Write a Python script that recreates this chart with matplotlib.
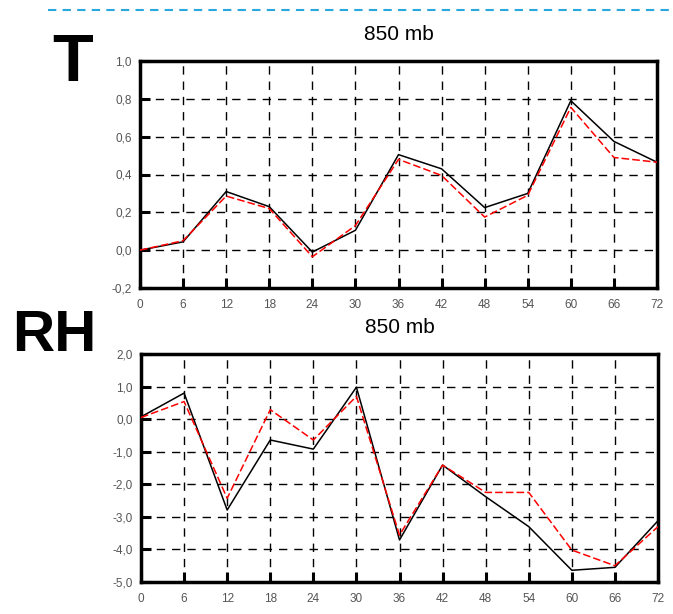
import numpy as np
import matplotlib
matplotlib.use("Agg")
import matplotlib.pyplot as plt
from matplotlib.lines import Line2D

plt.rcParams['font.family'] = ['Liberation Sans', 'DejaVu Sans']

hours = [0, 6, 12, 18, 24, 30, 36, 42, 48, 54, 60, 66, 72]

t_black = [0.0, 0.044, 0.31, 0.23, -0.01, 0.105, 0.505, 0.43, 0.225, 0.30, 0.79, 0.575, 0.465]
t_red = [0.0, 0.05, 0.286, 0.22, -0.035, 0.13, 0.48, 0.395, 0.175, 0.29, 0.755, 0.49, 0.465]

rh_black = [0.07, 0.8, -2.79, -0.64, -0.92, 0.98, -3.71, -1.41, -2.38, -3.3, -4.64, -4.55, -3.12]
rh_red = [0.05, 0.54, -2.43, 0.29, -0.64, 0.7, -3.56, -1.41, -2.25, -2.25, -4.02, -4.5, -3.3]

t_ticks = [-0.2, 0.0, 0.2, 0.4, 0.6, 0.8, 1.0]
rh_ticks = [-5.0, -4.0, -3.0, -2.0, -1.0, 0.0, 1.0, 2.0]

W, H = 673, 614
fig = plt.figure(figsize=(W / 100, H / 100), dpi=100)


def px_axes(left, top, right, bottom):
    return fig.add_axes([left / W, 1 - bottom / H, (right - left) / W, (bottom - top) / H])


def style(ax, black_series, red_series, yticks, title):
    ax.plot(hours, black_series, color='black', lw=1.1, zorder=3)
    ax.plot(hours, red_series, color='red', lw=1.1, dashes=(5, 2), zorder=4)
    ax.set_xlim(0, 72)
    ax.set_ylim(yticks[0], yticks[-1])
    ax.set_xticks(hours)
    ax.set_yticks(yticks)
    ax.set_yticklabels([f"{v:.1f}".replace('.', ',') for v in yticks])
    ax.grid(True, color='black', lw=1.0, linestyle=(0, (6, 5)))
    for s in ax.spines.values():
        s.set_linewidth(2.5)
    ax.tick_params(direction='in', length=7, width=2.2, labelsize=8.5,
                   labelcolor='#555555')
    ax.tick_params(axis='x', pad=8)
    ax.tick_params(axis='y', pad=6)
    ax.set_title(title, fontsize=15, pad=15)


ax1 = px_axes(140, 61, 657, 288)
style(ax1, t_black, t_red, t_ticks, "850 mb")

ax2 = px_axes(141, 354, 658, 582)
style(ax2, rh_black, rh_red, rh_ticks, "850 mb")

fig.text(73 / W, 1 - 64 / H, "T", fontsize=48, fontweight='bold', ha='center', va='center')
fig.text(54 / W, 1 - 336 / H, "RH", fontsize=42, fontweight='bold', ha='center', va='center')

fig.add_artist(Line2D([48 / W, 1.0], [1 - 10 / H, 1 - 10 / H], color='#29a8e0',
                      lw=1.5, linestyle=(0, (4, 3))))

fig.savefig("out.png", dpi=100)
